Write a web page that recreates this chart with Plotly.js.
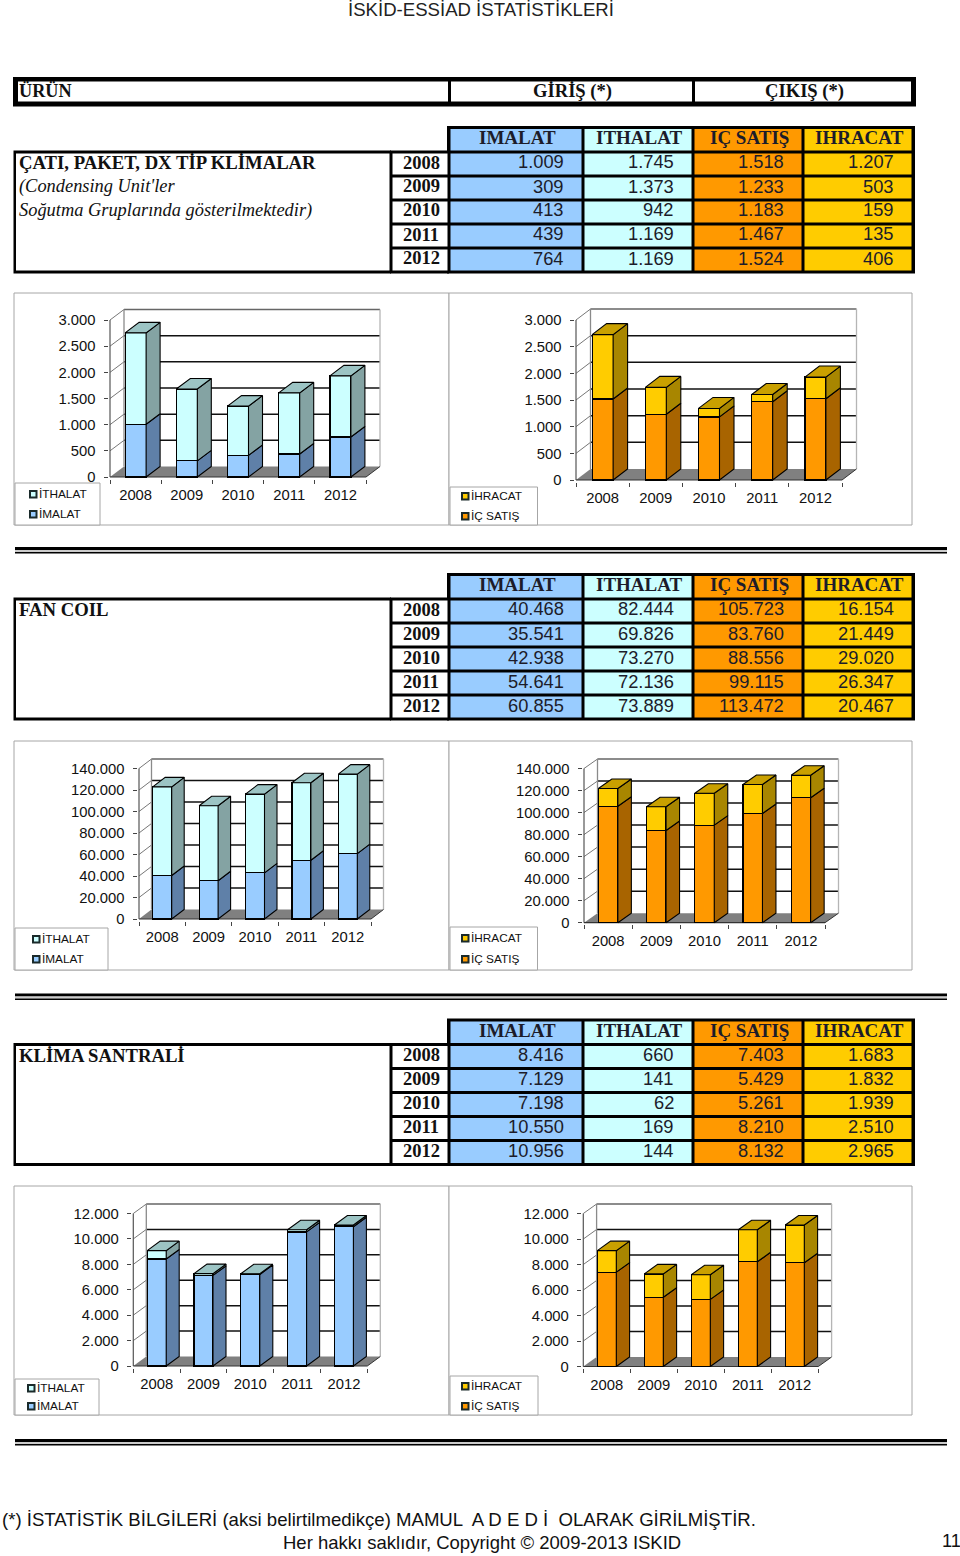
<!DOCTYPE html>
<html>
<head>
<meta charset="utf-8">
<script src="https://cdn.plot.ly/plotly-3.0.1.min.js"></script>
<style>html,body{margin:0;padding:0;background:#fff}#chart{width:960px;height:1556px}</style>
</head>
<body>
<div id="chart"></div>
<script>
// ---------- DATA ----------
const years = ['2008','2009','2010','2011','2012'];

const catImalat  = [1009, 309, 413, 439, 764];
const catIthalat = [1745, 1373, 942, 1169, 1169];
const catIcSatis = [1518, 1233, 1183, 1467, 1524];
const catIhracat = [1207, 503, 159, 135, 406];

const fanImalat  = [40468, 35541, 42938, 54641, 60855];
const fanIthalat = [82444, 69826, 73270, 72136, 73889];
const fanIcSatis = [105723, 83760, 88556, 99115, 113472];
const fanIhracat = [16154, 21449, 29020, 26347, 20467];

const kliImalat  = [8416, 7129, 7198, 10550, 10956];
const kliIthalat = [660, 141, 62, 169, 144];
const kliIcSatis = [7403, 5429, 5261, 8210, 8132];
const kliIhracat = [1683, 1832, 1939, 2510, 2965];

const catTicks = [0, 500, 1000, 1500, 2000, 2500, 3000];
const fanTicks = [0, 20000, 40000, 60000, 80000, 100000, 120000, 140000];
const kliTicks = [0, 2000, 4000, 6000, 8000, 10000, 12000];

const headerLabels = ['IMALAT', 'ITHALAT', 'IÇ SATIŞ', 'IHRACAT'];

// ---------- HELPERS ----------
const W = 960, H = 1556;
const SANS = '"Liberation Sans", Arial, sans-serif';
const SERIF = '"Liberation Serif", "Times New Roman", serif';
const fmt = v => String(v).replace(/\B(?=(\d{3})+(?!\d))/g, '.');
const PX = x => x / W, PY = y => 1 - y / H;

const shapes = [], annotations = [], traces = [], layout = {};

function rect(x0, y0, x1, y1, fill, line) {
  shapes.push({type: 'rect', xref: 'paper', yref: 'paper', layer: 'below',
    x0: PX(x0), x1: PX(x1), y0: PY(y0), y1: PY(y1), fillcolor: fill,
    line: line ? {color: line, width: 1} : {width: 0}});
}
function text(t, x, y, size, family, align, color) {
  annotations.push({text: t, xref: 'paper', yref: 'paper', x: PX(x), y: PY(y),
    xanchor: align || 'left', yanchor: 'middle', showarrow: false, borderpad: 0,
    font: {size: size, family: family || SANS, color: color || '#111'}});
}
const colors = {
  imalat:  {front: '#99CCFF', side: '#5F80A8', top: '#7FA3C9', sw: '#99CCFF'},
  ithalat: {front: '#CCFFFF', side: '#84A3A3', top: '#9CC4C4', sw: '#CCFFFF'},
  icsatis: {front: '#FF9900', side: '#A86400', top: '#C98000', sw: '#FF9900'},
  ihracat: {front: '#FFCC00', side: '#A88600', top: '#C9A000', sw: '#FFCC00'}
};

// ---------- PAGE FURNITURE ----------
text('İSKİD-ESSİAD İSTATİSTİKLERİ', 481, 9.3, 18.6, SANS, 'center', '#222');

// top band
rect(13, 77, 916, 106.5, '#000');
rect(18, 81.5, 448, 101.5, '#fff');
rect(451, 81.5, 692, 101.5, '#fff');
rect(695, 81.5, 911, 101.5, '#fff');
text('<b>ÜRÜN</b>', 17.8, 90.5, 18.2, SERIF);
text('<b>GİRİŞ (*)</b>', 572, 91, 18.6, SERIF, 'center');
text('<b>ÇIKIŞ (*)</b>', 804, 91, 18.6, SERIF, 'center');

// data tables
function table(dy, labelLines, series) {
  const colE = [449, 583, 693, 803, 913];
  const rowE = [127, 152, 176, 200, 224, 248, 272].map(v => v + dy);
  const cols = [colors.imalat.front, colors.ithalat.front, colors.icsatis.front, colors.ihracat.front];
  rect(13.5, rowE[1] - 1.5, 391, rowE[6] + 1.5, '#000');
  rect(390, rowE[1] - 1.5, 449, rowE[6] + 1.5, '#000');
  rect(447, rowE[0] - 1, 915, rowE[6] + 1.5, '#000');
  rect(16, rowE[1] + 1.5, 389.5, rowE[6] - 1.5, '#fff');
  for (let r = 0; r < 5; r++) {
    rect(392.5, rowE[r + 1] + 1.5, 447.5, rowE[r + 2] - 1.5, '#fff');
    text('<b>' + years[r] + '</b>', 421, rowE[r + 1] + 10.5, 18.5, SERIF, 'center');
    for (let c = 0; c < 4; c++) {
      rect(colE[c] + 1.5, rowE[r + 1] + 1.5, colE[c + 1] - 1.5, rowE[r + 2] - 1.5, cols[c]);
      text(fmt(series[c][r]), colE[c + 1] - 18, rowE[r + 1] + 10, 18.3, SANS, 'right', '#1c1c2a');
    }
  }
  for (let c = 0; c < 4; c++) {
    rect(colE[c] + 1.5, rowE[0] + 2, colE[c + 1] - 1.5, rowE[1] - 1.5, cols[c]);
    text('<b>' + headerLabels[c] + '</b>', (colE[c] + colE[c + 1]) / 2 + 1, rowE[0] + 10.7, 19, SERIF, 'center', '#1c1c2a');
  }
  labelLines.forEach((l, i) => {
    text(l, 17.6, rowE[1] + 10.8 + i * 24, i === 0 ? 18.7 : 18.4, SERIF);
  });
}
table(0, ['<b>ÇATI, PAKET, DX TİP KLİMALAR</b>', "<i>(Condensing Unit'ler</i>", '<i>Soğutma Gruplarında gösterilmektedir)</i>'],
  [catImalat, catIthalat, catIcSatis, catIhracat]);
table(447, ['<b>FAN COIL</b>'], [fanImalat, fanIthalat, fanIcSatis, fanIhracat]);
table(892.5, ['<b>KLİMA SANTRALİ</b>'], [kliImalat, kliIthalat, kliIcSatis, kliIhracat]);

// double rules
[547, 993.5, 1439].forEach(y => {
  rect(15, y, 947, y + 3, '#000');
  rect(15, y + 3, 947, y + 5, '#ccc');
  rect(15, y + 5, 947, y + 6.5, '#000');
});

// footer
text('(*) İSTATİSTİK BİLGİLERİ (aksi belirtilmedikçe) MAMUL  A D E D İ  OLARAK GİRİLMİŞTİR.', 0.5, 1519.5, 18.6, SANS, 'left', '#111');
text('Her hakkı saklıdır, Copyright © 2009-2013 ISKID', 481.5, 1542.5, 18.5, SANS, 'center', '#111');
text('11', 951, 1541, 18.2, SANS, 'center', '#111');

// ---------- CHARTS ----------
const IT = colors.ithalat, IM = colors.imalat, SA = colors.icsatis, HR = colors.ihracat;
const charts = [
  {a: catImalat, b: catIthalat, ca: IM, cb: IT, na: 'İMALAT', nb: 'İTHALAT', ticks: catTicks,
   f: [14, 293, 449, 525], lg: [15, 483, 100, 525], ly: [494, 514], sx: 30,
   x0: 110, xR: 366, y0: 477, yT: 320, dx: 14, dy: 10.5, bw: 21},
  {a: catIcSatis, b: catIhracat, ca: SA, cb: HR, na: 'İÇ SATIŞ', nb: 'İHRACAT', ticks: catTicks,
   f: [449, 293, 912, 525], lg: [450, 487, 537.5, 525], ly: [496, 516], sx: 462,
   x0: 576, xR: 842, y0: 480, yT: 320, dx: 14.5, dy: 11, bw: 21},
  {a: fanImalat, b: fanIthalat, ca: IM, cb: IT, na: 'İMALAT', nb: 'İTHALAT', ticks: fanTicks,
   f: [14, 741, 449, 970], lg: [15, 928, 108, 970], ly: [939, 959], sx: 33,
   x0: 139, xR: 371, y0: 919, yT: 768.5, dx: 12.5, dy: 9.5, bw: 19},
  {a: fanIcSatis, b: fanIhracat, ca: SA, cb: HR, na: 'İÇ SATIŞ', nb: 'İHRACAT', ticks: fanTicks,
   f: [449, 741, 912, 970], lg: [450, 927, 537.5, 970], ly: [938, 959], sx: 462,
   x0: 584, xR: 825, y0: 922.7, yT: 768.5, dx: 13.5, dy: 9.5, bw: 19.5},
  {a: kliImalat, b: kliIthalat, ca: IM, cb: IT, na: 'İMALAT', nb: 'İTHALAT', ticks: kliTicks,
   f: [14, 1186, 449, 1415], lg: [15, 1379, 99, 1415], ly: [1388, 1406], sx: 28,
   x0: 133.3, xR: 367.3, y0: 1366, yT: 1213.5, dx: 13, dy: 9.5, bw: 19},
  {a: kliIcSatis, b: kliIhracat, ca: SA, cb: HR, na: 'İÇ SATIŞ', nb: 'İHRACAT', ticks: kliTicks,
   f: [449, 1186, 912, 1415], lg: [450, 1376, 538, 1415], ly: [1386, 1406], sx: 462,
   x0: 583.3, xR: 818.3, y0: 1366.5, yT: 1213.5, dx: 13.3, dy: 9.5, bw: 19}
];

const PAD = 1.5;
charts.forEach((c, i) => {
  const n = i + 1, xk = 'x' + n, yk = 'y' + n, max = c.ticks[c.ticks.length - 1];
  const catPx = (c.xR - c.x0) / 5, valPx = (c.y0 - c.yT) / max;
  const ddx = c.dx / catPx, ddy = c.dy / valPx, hw = c.bw / catPx / 2;
  const L = -0.5, R = 4.5, xs = [0, 1, 2, 3, 4];

  // frame and legend box
  rect(c.f[0], c.f[1], c.f[2], c.f[3], '#fff', '#a6a6a6');
  layout['xaxis' + n] = {
    domain: [PX(c.x0 - PAD), PX(c.xR + c.dx + PAD)], anchor: yk,
    range: [L - PAD / catPx, R + ddx + PAD / catPx], fixedrange: true,
    showgrid: false, zeroline: false, showline: false,
    tickmode: 'array', tickvals: xs, ticktext: years, ticks: '',
    ticklabelstandoff: 6, tickfont: {family: SANS, size: 14.8, color: '#111'},
    minor: {tickmode: 'array', tickvals: [-0.5, 0.5, 1.5, 2.5, 3.5, 4.5], ticks: 'outside', ticklen: 4, tickcolor: '#444', tickwidth: 1, showgrid: false}
  };
  layout['yaxis' + n] = {
    domain: [PY(c.y0 + PAD), PY(c.yT - c.dy - PAD)], anchor: xk,
    range: [-PAD / valPx, max + ddy + PAD / valPx], fixedrange: true,
    showgrid: false, zeroline: false, showline: false,
    tickmode: 'array', tickvals: c.ticks, ticktext: c.ticks.map(fmt),
    ticks: 'outside', ticklen: 4, tickcolor: '#444', tickwidth: 1,
    ticklabelstandoff: 5, tickfont: {family: SANS, size: 14.8, color: '#111'}
  };

  // walls and floor, all from the axis scale
  const sLine = (x0, y0, x1, y1, color, width) => shapes.push({type: 'line', xref: xk, yref: yk, layer: 'below',
    x0, y0, x1, y1, line: {color, width}});
  shapes.push({type: 'path', xref: xk, yref: yk, layer: 'below', fillcolor: '#808080', line: {width: 0},
    path: `M ${L} 0 L ${R} 0 L ${R + ddx} ${ddy} L ${L + ddx} ${ddy} Z`});
  c.ticks.forEach((t, k) => {
    const last = k === c.ticks.length - 1;
    if (k > 0) {
      sLine(L, t, L + ddx, t + ddy, '#777', 1);
      sLine(L + ddx, t + ddy, R + ddx, t + ddy, last ? '#666' : '#111', last ? 1.6 : 1.5);
    }
  });
  sLine(L + ddx, ddy, L + ddx, max + ddy, '#8a8a8a', 1.3);
  sLine(R + ddx, ddy, R + ddx, max + ddy, '#b5b5b5', 1.3);
  sLine(L, 0, L, max, '#555', 1.2);
  sLine(L, 0, R, 0, '#333', 1.2);
  sLine(R, 0, R + ddx, ddy, '#333', 1);

  // front faces
  traces.push({type: 'bar', name: c.na, x: xs, y: c.a, width: 2 * hw, xaxis: xk, yaxis: yk,
    marker: {color: c.ca.front, line: {color: '#000', width: 1.2}}, showlegend: false});
  traces.push({type: 'bar', name: c.nb, x: xs, y: c.b, width: 2 * hw, xaxis: xk, yaxis: yk,
    marker: {color: c.cb.front, line: {color: '#000', width: 1.2}}, showlegend: false});

  // side and top faces derived from the same values
  const poly = (color, build) => {
    const px = [], py = [];
    xs.forEach(k => { build(k).forEach(p => { px.push(p[0]); py.push(p[1]); }); px.push(null); py.push(null); });
    traces.push({type: 'scatter', mode: 'lines', x: px, y: py, xaxis: xk, yaxis: yk, fill: 'toself',
      fillcolor: color, line: {color: '#000', width: 1.1}, hoverinfo: 'skip', showlegend: false});
  };
  const side = (lo, hi) => k => {
    const x = k + hw, v0 = lo(k), v1 = hi(k);
    return [[x, v0], [x + ddx, v0 + ddy], [x + ddx, v1 + ddy], [x, v1], [x, v0]];
  };
  poly(c.ca.side, side(() => 0, k => c.a[k]));
  poly(c.cb.side, side(k => c.a[k], k => c.a[k] + c.b[k]));
  poly(c.cb.top, k => {
    const v = c.a[k] + c.b[k], x0 = k - hw, x1 = k + hw;
    return [[x0, v], [x1, v], [x1 + ddx, v + ddy], [x0 + ddx, v + ddy], [x0, v]];
  });

  // legend
  rect(c.lg[0], c.lg[1], c.lg[2], c.lg[3], '#fff', '#a6a6a6');
  [[c.nb, c.cb], [c.na, c.ca]].forEach((it, k) => {
    const y = c.ly[k];
    rect(c.sx, y - 3, c.sx + 6.5, y + 3.5, it[1].sw);
    shapes[shapes.length - 1].line = {color: '#1a2a2a', width: 2};
    text(it[0], c.sx + 7.5, y - 0.3, 11.8, SANS, 'left', '#111');
  });
});

Object.assign(layout, {
  width: W, height: H, autosize: false,
  margin: {l: 0, r: 0, t: 0, b: 0, pad: 0},
  paper_bgcolor: '#fff', plot_bgcolor: 'rgba(0,0,0,0)',
  barmode: 'stack', showlegend: false, hovermode: 'closest',
  shapes, annotations
});
Plotly.newPlot('chart', traces, layout, {displayModeBar: false, responsive: false});
</script>
</body>
</html>
